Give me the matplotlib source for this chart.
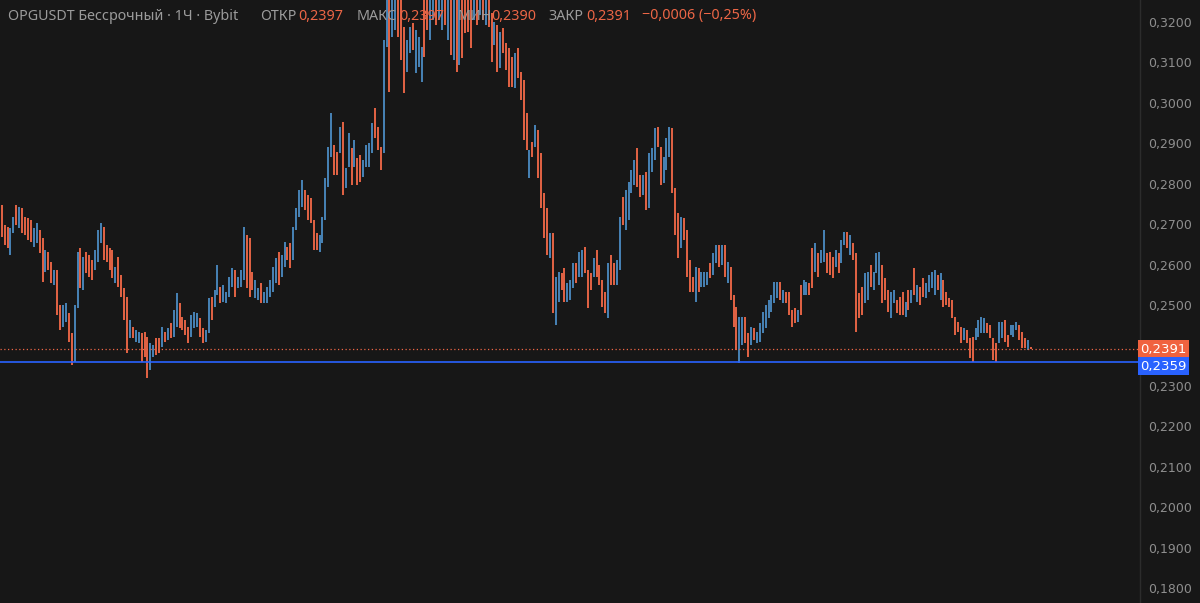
import matplotlib
matplotlib.use("Agg")
import matplotlib.pyplot as plt
import matplotlib.transforms as mtransforms
from matplotlib.ticker import MultipleLocator, FuncFormatter
import numpy as np

# OHLC bars, 1h, prices in units of 0.0001
high = [
    2747, 2698, 2693, 2691, 2718, 2747, 2742, 2740, 2718, 2715,
    2710, 2691, 2703, 2686, 2666, 2636, 2631, 2606, 2587, 2587,
    2500, 2500, 2505, 2480, 2431, 2500, 2631, 2641, 2619, 2631,
    2624, 2611, 2636, 2686, 2703, 2693, 2649, 2641, 2636, 2594,
    2619, 2574, 2542, 2520, 2463, 2446, 2438, 2433, 2431, 2433,
    2421, 2406, 2401, 2419, 2419,
    2446, 2433, 2443, 2456, 2488,
    2530, 2505, 2470, 2463, 2446, 2475, 2483, 2480, 2468, 2443,
    2438, 2517, 2520, 2537, 2599, 2545, 2550, 2532, 2569, 2592,
    2587, 2569, 2587, 2693, 2673, 2666, 2582, 2562, 2542, 2555,
    2532, 2545, 2562, 2594, 2616, 2631, 2624, 2656, 2644, 2654,
    2693, 2740, 2785, 2809, 2785, 2772, 2765, 2710,
    2678, 2673,
    2718, 2814, 2891, 2975, 2896, 2879, 2940, 2953, 2839, 2926,
    2888, 2908, 2864, 2871, 2859, 2896, 2901, 2950, 2987, 2940, 2891,
    3155, 3270, 3270, 3280, 3290, 3285, 3275, 3188, 3155,
    3188, 3198, 3180, 3163, 3138, 3270, 3290, 3285, 3300, 3300,
    3310, 3300, 3295, 3290, 3280, 3275, 3270, 3280, 3285, 3290,
    3295, 3280, 3300, 3305, 3310, 3300, 3295, 3290, 3222, 3200,
    3193, 3175, 3185, 3148, 3135, 3113, 3123, 3135, 3076, 3057,
    2975, 2883, 2903, 2945, 2933, 2876, 2777, 2740, 2678, 2678,
    2569, 2582, 2579, 2592, 2555, 2562, 2604, 2604, 2631, 2636,
    2644, 2587, 2579, 2616, 2636, 2599, 2562, 2532, 2604, 2624,
    2604, 2611, 2718, 2767, 2785, 2804, 2834, 2859, 2888, 2822,
    2822, 2829, 2876, 2888, 2938, 2940, 2891, 2866, 2913, 2940,
    2938, 2789, 2728, 2718, 2715, 2686, 2611, 2569, 2594, 2592,
    2582, 2582, 2582, 2604, 2629, 2649, 2649, 2649, 2649, 2606,
    2594, 2525, 2495, 2470, 2470, 2470, 2431, 2446, 2443, 2433,
    2456, 2483, 2500, 2513, 2525, 2557, 2557, 2557, 2537, 2532,
    2532, 2488, 2493, 2488, 2550, 2562, 2557, 2555, 2641, 2654,
    2629, 2636, 2686, 2629, 2631, 2619, 2636, 2629, 2661, 2681,
    2681, 2673, 2654, 2629, 2530, 2545, 2579, 2582, 2599, 2582,
    2629, 2631, 2599, 2567, 2537, 2532, 2537, 2513, 2520, 2532, 2508,
    2537, 2537, 2592, 2550, 2545, 2567, 2555, 2574, 2582,
    2587, 2574, 2579, 2562, 2532, 2517, 2513, 2470, 2458, 2446,
    2443, 2438, 2419, 2421, 2443, 2463, 2470, 2468, 2456, 2451,
    2419, 2406, 2458, 2458, 2463, 2426, 2451, 2451, 2458, 2451,
    2433, 2419, 2414, 2397,
]
low = [
    2668, 2649, 2641, 2624, 2678, 2698, 2691, 2678, 2673, 2661,
    2656, 2644, 2654, 2629, 2557, 2582, 2587, 2555, 2550, 2475,
    2438, 2446, 2458, 2409, 2352, 2359, 2493, 2542, 2537, 2579,
    2569, 2562, 2587, 2606, 2654, 2611, 2606, 2587, 2567, 2555,
    2545, 2520, 2463, 2382, 2419, 2419, 2409, 2406, 2359, 2372,
    2320, 2339, 2372, 2377, 2382,
    2396, 2409, 2414, 2419, 2421,
    2446, 2443, 2438, 2426, 2406, 2421, 2443, 2446, 2421, 2406,
    2409, 2431, 2463, 2495, 2525, 2505, 2508, 2505, 2520, 2545,
    2520, 2542, 2545, 2562, 2542, 2520, 2537, 2517, 2513, 2505,
    2505, 2505, 2520, 2532, 2555, 2550, 2569, 2594, 2611, 2592,
    2611, 2686, 2718, 2742, 2735, 2710, 2703, 2636,
    2636, 2631,
    2654, 2710, 2792, 2866, 2822, 2822, 2876, 2772, 2789, 2841,
    2797, 2841, 2797, 2804, 2817, 2841, 2841, 2876, 2913, 2883, 2834,
    2876, 3138, 3027, 3163, 3180, 3163, 3106, 3024, 3076,
    3123, 3131, 3074, 3089, 3052, 3113, 3180, 3155, 3205, 3193,
    3205, 3180, 3193, 3155, 3118, 3106, 3076, 3094, 3110, 3172,
    3175, 3135, 3205, 3193, 3217, 3205, 3193, 3188, 3101, 3143,
    3076, 3086, 3123, 3081, 3039, 3039, 3037, 3061, 3007, 2908,
    2883, 2814, 2866, 2891, 2814, 2740, 2666, 2624, 2616, 2480,
    2451, 2508, 2537, 2508, 2508, 2513, 2542, 2555, 2569, 2569,
    2579, 2493, 2537, 2569, 2569, 2550, 2495, 2480, 2468, 2550,
    2550, 2550, 2587, 2698, 2686, 2710, 2777, 2797, 2792, 2767,
    2772, 2735, 2740, 2829, 2859, 2891, 2797, 2802, 2834, 2866,
    2777, 2673, 2616, 2641, 2661, 2569, 2532, 2532, 2508, 2532,
    2545, 2545, 2550, 2567, 2574, 2604, 2594, 2599, 2569, 2555,
    2513, 2446, 2389, 2357, 2401, 2406, 2372, 2401, 2414, 2406,
    2409, 2431, 2443, 2468, 2483, 2505, 2517, 2513, 2505, 2505,
    2475, 2446, 2456, 2458, 2475, 2525, 2525, 2525, 2542, 2582,
    2569, 2604, 2606, 2579, 2574, 2567, 2594, 2579, 2604, 2649,
    2641, 2624, 2611, 2433, 2468, 2475, 2505, 2513, 2545, 2537,
    2579, 2550, 2505, 2513, 2483, 2468, 2505, 2480, 2475, 2475, 2470,
    2488, 2505, 2525, 2508, 2500, 2520, 2517, 2532, 2542,
    2525, 2537, 2513, 2495, 2500, 2495, 2468, 2426, 2433, 2406,
    2414, 2406, 2369, 2359, 2414, 2421, 2431, 2431, 2431, 2419,
    2364, 2359, 2406, 2419, 2409, 2396, 2426, 2421, 2438, 2414,
    2394, 2394, 2389, 2390,
]
# u = close above open, d = close below open
direction = (
    "dddu udud dd" "duuddudd ud" "duuddu udud" "dduuuddddu" "ddddudu udd"
    "duudd" "udud u"
    "udddduuudd" "uuduuduuuu" "duuuddduud" "uuuuuduudd"
    "uuuudddd" "du"
    "uuuudduduu" "dudduuuuddd" "uuduudddu"
    "uduuudduud" "uudududud d" "ddudududdu" "duddddudd d"
    "dududdddud" "uudduuuduu" "dddudddd ud" "duuduuuudd"
    "uduuudduuu" "dddudddd ud" "uuuduudu du" "dddu uddudu"
    "uuuuuuudud" "ddduduuddu d" "uudddudu ud" "udddduudu u"
    "udddu udddud" "udu dduuuu" "dudddddddu" "ddduuuuddd"
    "duudduuudd" "dudd"
).replace(" ", "")
last_price = 0.2391
marked_level = 0.2359

BG = "#171717"
UP = "#4a87bd"
DOWN = "#ec6646"
GREY = "#9b9b9b"

h = np.array(high) / 10000
l = np.array(low) / 10000
idx = np.arange(len(h))
colors = [UP if c == "u" else DOWN for c in direction]

fig = plt.figure(figsize=(12, 6.03), dpi=100, facecolor=BG)
ax = fig.add_axes([0, 0, 1140 / 1200, 1])
ax.set_facecolor(BG)

ax.vlines(idx, l, h, colors=colors, linewidth=1.35)

ax.set_xlim(-0.58, 390.4)
ax.set_ylim(0.17629, 0.32544)

# last price (dotted) and the blue level line
ax.axhline(last_price, color=DOWN, linewidth=0.9, linestyle=(0, (1, 2)))
ax.axhline(marked_level, color="#2962ff", linewidth=1.2)


def price_fmt(v, pos):
    # the 0,2400 mark sits under the last-price label, so it is not shown
    if abs(v - 0.24) < 1e-6:
        return ""
    return f"{v:.4f}".replace(".", ",")


# price scale on the right
ax.yaxis.tick_right()
ax.yaxis.set_major_locator(MultipleLocator(0.01))
ax.yaxis.set_major_formatter(FuncFormatter(price_fmt))
ax.tick_params(axis="y", length=0, pad=6, labelsize=9, labelcolor="#8e8e8e")
ax.set_xticks([])
for s in ["top", "bottom", "left"]:
    ax.spines[s].set_visible(False)
ax.spines["right"].set_color("#2c2c2c")
ax.spines["right"].set_linewidth(1)

# price labels on the scale; the blue one is pushed down so the two stack
trans = mtransforms.blended_transform_factory(ax.transAxes, ax.transData)
shift = mtransforms.ScaledTranslation(0, -4 / 100, fig.dpi_scale_trans)
for price, fc, tr in [(last_price, "#f0623f", trans), (marked_level, "#2962ff", trans + shift)]:
    ax.text(1.0, price, f"{price:.4f}".replace(".", ","), transform=tr,
            ha="left", va="center", fontsize=9.5, color="white",
            bbox=dict(boxstyle="square,pad=0.18", fc=fc, ec="none"),
            clip_on=False, zorder=5)

# header
header = [
    (8, "OPGUSDT Бессрочный · 1Ч · Bybit", GREY),
    (260, "ОТКР", GREY),
    (298, "0,2397", DOWN),
    (357, "МАКС", GREY),
    (399, "0,2397", DOWN),
    (458, "МИН", GREY),
    (491, "0,2390", DOWN),
    (548, "ЗАКР", GREY),
    (586, "0,2391", DOWN),
    (642, "−0,0006 (−0,25%)", DOWN),
]
for x, s, c in header:
    fig.text(x / 1200, 1 - 16 / 603, s, color=c, fontsize=10.3,
             family=["Noto Sans", "DejaVu Sans"], ha="left", va="center")

fig.savefig("out.png", dpi=100, facecolor=BG)
